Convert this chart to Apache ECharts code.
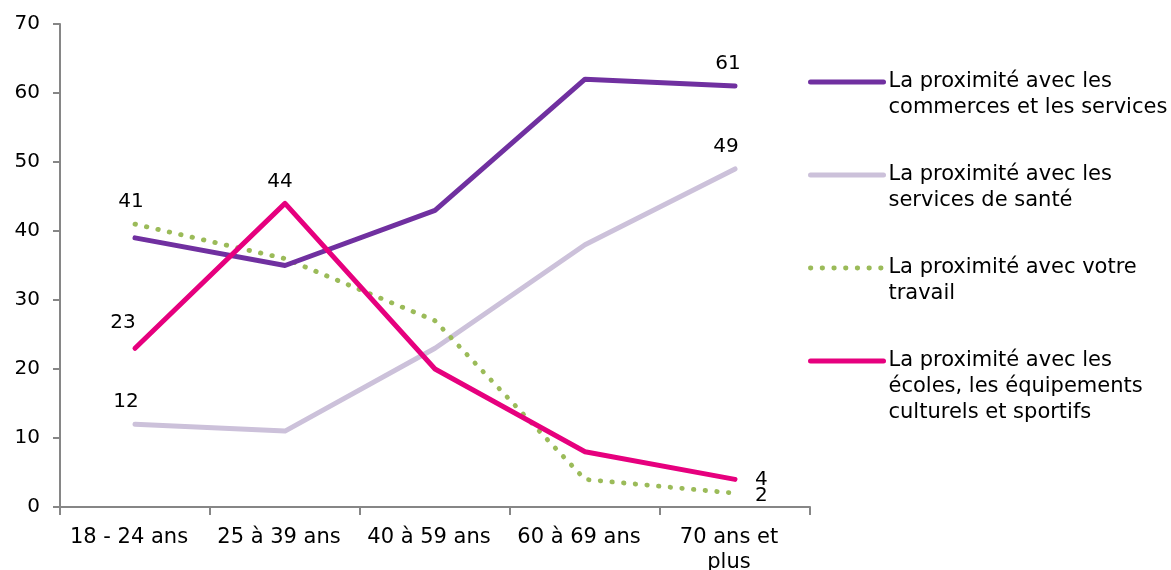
<!DOCTYPE html>
<html>
<head>
<meta charset="utf-8">
<script src="https://cdn.jsdelivr.net/npm/echarts@6/dist/echarts.min.js"></script>
<style>html,body{margin:0;padding:0;background:#fff}#c{width:1171px;height:570px}</style>
</head>
<body>
<div id="c"></div>
<script>
const categories = ['18 - 24 ans', '25 à 39 ans', '40 à 59 ans', '60 à 69 ans', '70 ans et\nplus'];
const seriesNames = [
  'La proximité avec les\ncommerces et les services',
  'La proximité avec les\nservices de santé',
  'La proximité avec votre\ntravail',
  'La proximité avec les\nécoles, les équipements\nculturels et sportifs'
];
const commerces = [39, 35, 43, 62, 61];
const sante = [12, 11, 23, 38, 49];
const travail = [41, 36, 27, 4, 2];
const ecoles = [23, 44, 20, 8, 4];
const yTicks = [0, 10, 20, 30, 40, 50, 60, 70];

// which points carry a value label: [index, position, offset]
const labelSpec = [
  [[4, 'top', [-7, 0]]],
  [[0, 'top', [-9, 0]], [4, 'top', [-9, 0]]],
  [[0, 'top', [-4, 0]], [4, 'right', [8, 3]]],
  [[0, 'top', [-12, -4]], [1, 'top', [-5, 0]], [4, 'right', [8, 0]]]
];
const colors = ['#7030A0', '#CCC1DA', '#9BBB59', '#E6007E'];
const values = [commerces, sante, travail, ecoles];
const FONT = 'DejaVu Sans';

function buildData(vals, spec) {
  return vals.map((v, i) => {
    const s = spec.find(x => x[0] === i);
    if (!s) return v;
    return {
      value: v,
      symbol: 'circle',
      symbolSize: 0,
      label: { show: true, position: s[1], offset: s[2], distance: 12,
               color: '#000', fontSize: 20, fontFamily: FONT }
    };
  });
}

const series = values.map((vals, k) => ({
  name: seriesNames[k],
  type: 'line',
  data: buildData(vals, labelSpec[k]),
  symbol: 'none',
  z: k === 3 ? 5 : (k === 0 ? 4 : (k === 2 ? 3 : 2)),
  lineStyle: k === 2
    ? { color: colors[k], width: 4.8, type: [0.5, 11.2], cap: 'round' }
    : { color: colors[k], width: 5, cap: 'round', join: 'round' },
  itemStyle: { color: colors[k] },
  label: { show: false },
  emphasis: { disabled: true },
  animation: false
}));

const legendTops = [81, 174, 267, 360];
const legends = seriesNames.map((n, k) => {
  const lines = n.split('\n').length;
  const total = (2 * lines - 1) * 26;
  return {
    data: [n],
    left: 808,
    top: legendTops[k] - total / 2 + 1,
    padding: 0,
    orient: 'vertical',
    itemWidth: 73,
    itemHeight: 8,
    itemGap: 0,
    selectedMode: false,
    formatter: name => '\n'.repeat(name.split('\n').length - 1) + name,
    itemStyle: { color: 'rgba(0,0,0,0)', borderWidth: 0, opacity: 0 },
    lineStyle: { width: k === 2 ? 4.8 : 5 },
    textStyle: { fontSize: 21, fontFamily: FONT, color: '#000', lineHeight: 26 }
  };
});

const chart = echarts.init(document.getElementById('c'), null, { renderer: 'canvas' });
chart.setOption({
  animation: false,
  backgroundColor: '#fff',
  grid: { left: 60, right: 361, top: 24, bottom: 63, containLabel: false, outerBoundsMode: 'none' },
  legend: legends,
  xAxis: {
    type: 'category',
    data: categories,
    boundaryGap: true,
    axisLine: { lineStyle: { color: '#868686', width: 2 } },
    axisTick: { show: true, length: 8, alignWithLabel: false, lineStyle: { color: '#868686', width: 2 } },
    axisLabel: { fontSize: 21, fontFamily: FONT, color: '#000', margin: 18, lineHeight: 25,
                 interval: 0, padding: [0, 12, 0, 0] }
  },
  yAxis: {
    type: 'value',
    min: 0, max: 70, interval: 10,
    splitLine: { show: false },
    axisLine: { show: true, lineStyle: { color: '#868686', width: 2 } },
    axisTick: { show: true, length: 7, lineStyle: { color: '#868686', width: 2 } },
    axisLabel: { fontSize: 20, fontFamily: FONT, color: '#000', margin: 20,
                 formatter: v => yTicks.includes(v) ? String(v) : '' }
  },
  series: series
});
</script>
</body>
</html>
